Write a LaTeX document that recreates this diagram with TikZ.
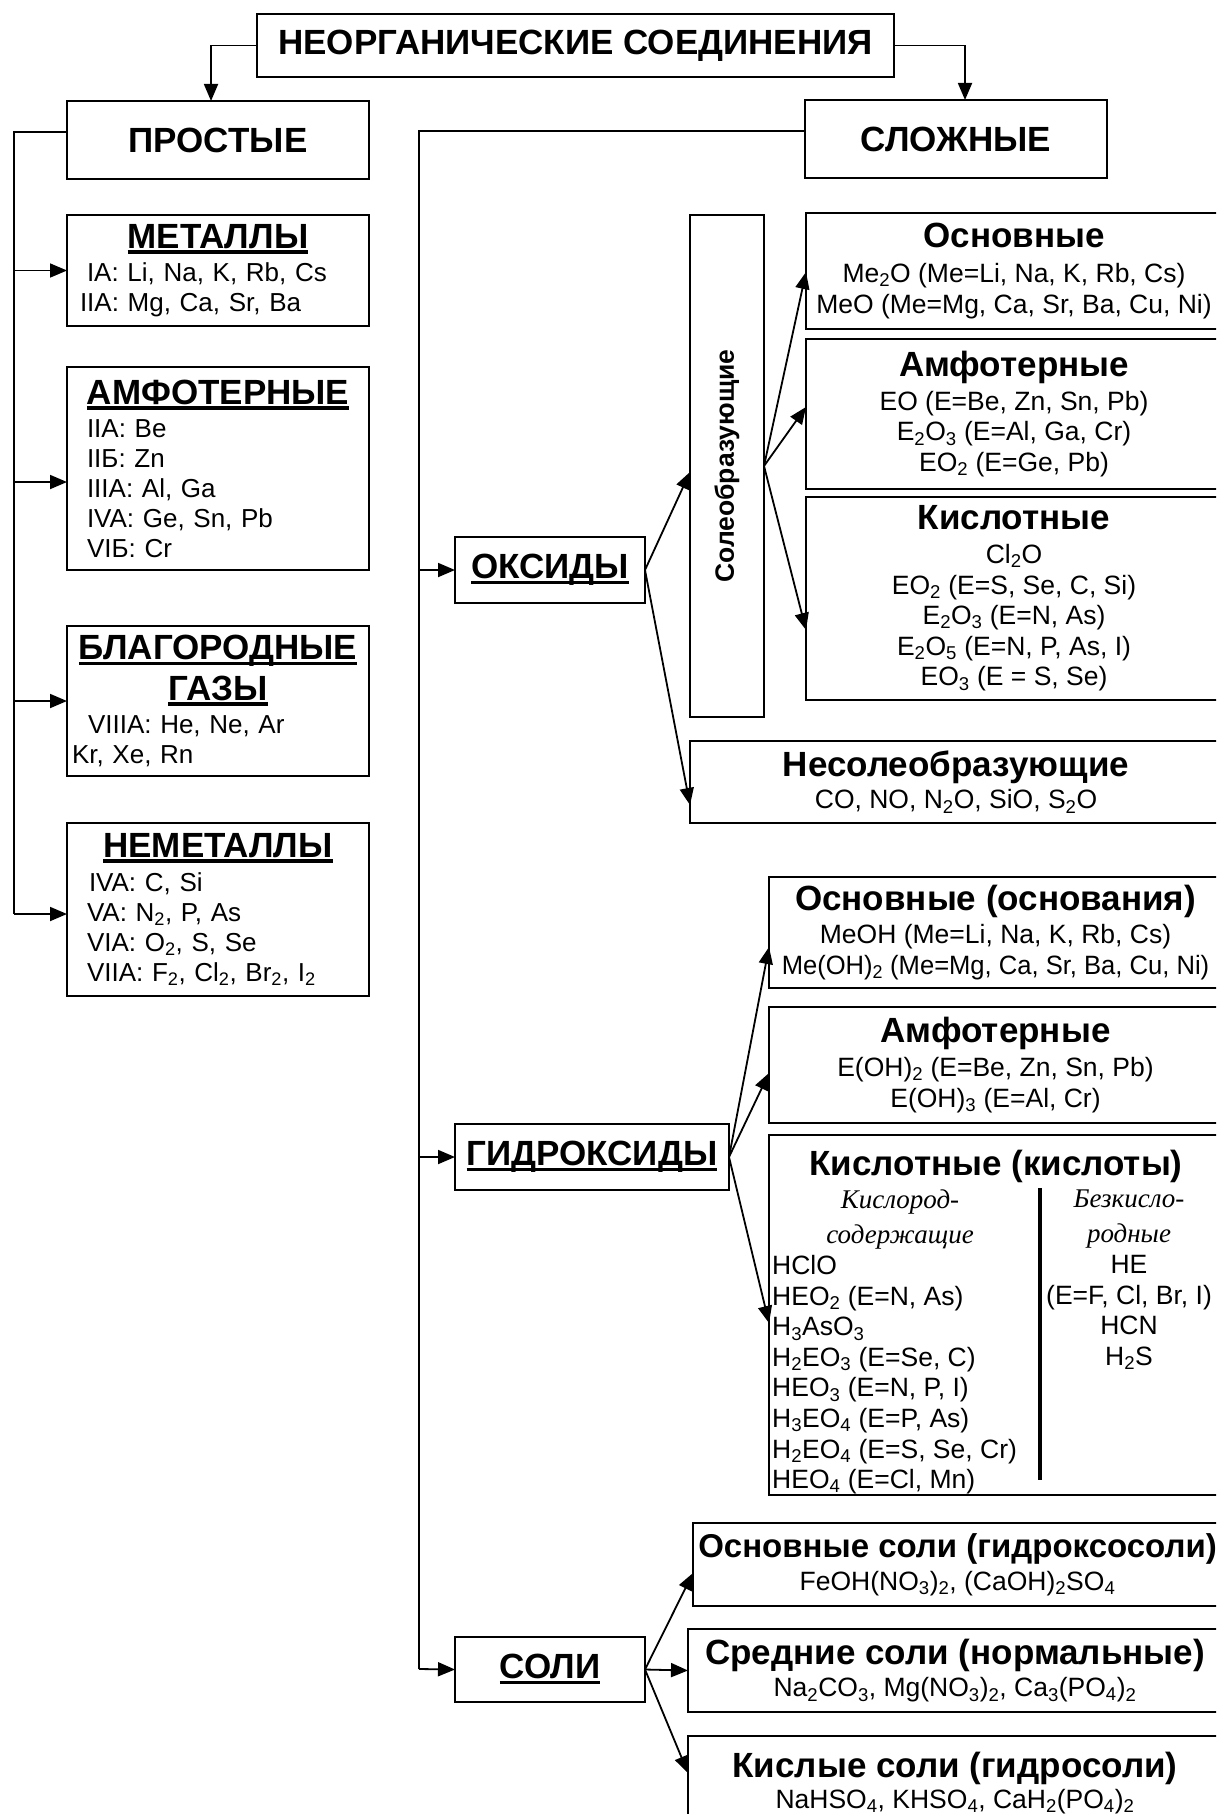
\documentclass[tikz,border=0pt]{standalone}
\usepackage{fontspec}
\usepackage{graphicx}
\setmainfont{Liberation Sans}
\newfontfamily\serifit{Liberation Serif}
\usetikzlibrary{arrows.meta}
\newcommand\sub[1]{\textsubscript{#1}}
\newcommand\ulx[1]{\setbox0\hbox{#1}\rlap{\rule[-5.5pt]{\wd0}{3.5pt}}\box0}
\newcommand\capt{\fontsize{35}{38}\selectfont\bfseries}
\newcommand\medt{\fontsize{35}{38}\selectfont\bfseries}
\newcommand\bod{\fontsize{26.5}{30.6}\selectfont}
\newcommand\lbod{\fontsize{26}{30}\selectfont}
\newcommand\rotf{\fontsize{26.5}{28}\selectfont\bfseries}
\newcommand\itl{\fontsize{27}{35}\selectfont\serifit\itshape}
\tikzset{
  box/.style={draw, line width=2.2pt, inner sep=0pt, outer sep=0pt, anchor=north west, align=center, font=\bod},
  lbox/.style={box, align=left, text width=302pt, font=\lbod},
  conn/.style={line width=1.8pt},
  arr/.style={line width=1.8pt, -{Triangle[length=17pt,width=14pt]}},
}
\begin{document}
\begin{tikzpicture}[x=1pt,y=-1pt]
\useasboundingbox (0,0) rectangle (1216,1814);
\clip (0,0) rectangle (1216,1814);
\fill[white] (0,0) rectangle (1216,1814);

% top level
\node[box, minimum width=637pt, minimum height=63pt, font=\capt] (top) at (257,14) {НЕОРГАНИЧЕСКИЕ СОЕДИНЕНИЯ};
\node[box, minimum width=302pt, minimum height=78pt, font=\capt] (prost) at (67,101) {ПРОСТЫЕ};
\node[box, minimum width=302pt, minimum height=78pt, font=\capt] (slozh) at (805,100) {СЛОЖНЫЕ};

% simple substances
\node[lbox, minimum height=111pt] (met) at (67,215) {%
\centerline{\capt\ulx{МЕТАЛЛЫ}}\vspace{3pt}
\hspace*{20pt}IA: Li, Na, K, Rb, Cs\\
\hspace*{13pt}IIA: Mg, Ca, Sr, Ba};
\node[lbox, minimum height=203pt] (amf) at (67,367) {%
\centerline{\capt\ulx{АМФОТЕРНЫЕ}}\vspace{3pt}
\hspace*{20pt}IIA: Be\\
\hspace*{20pt}IIБ: Zn\\
\hspace*{20pt}IIIA: Al, Ga\\
\hspace*{20pt}IVA: Ge, Sn, Pb\\
\hspace*{20pt}VIБ: Cr};
\node[lbox, minimum height=150pt] (blag) at (67,626) {%
\centerline{\capt\ulx{БЛАГОРОДНЫЕ}}\vspace{8pt}
\centerline{\capt\ulx{ГАЗЫ}}\vspace{3pt}
\hspace*{21pt}VIIIA: He, Ne, Ar\\
\hspace*{5pt}Kr, Xe, Rn};
\node[lbox, minimum height=173pt] (nemet) at (67,823) {%
\centerline{\capt\ulx{НЕМЕТАЛЛЫ}}\vspace{4pt}
\hspace*{22pt}IVA: C, Si\\
\hspace*{20pt}VA: N\sub{2}, P, As\\
\hspace*{20pt}VIA: O\sub{2}, S, Se\\
\hspace*{20pt}VIIA: F\sub{2}, Cl\sub{2}, Br\sub{2}, I\sub{2}};

% complex: classes
\node[box, minimum width=190pt, minimum height=66pt, font=\capt] (oks) at (455,537) {\ulx{ОКСИДЫ}};
\node[box, minimum width=274pt, minimum height=66pt, font=\capt] (gidr) at (455,1124) {\ulx{ГИДРОКСИДЫ}};
\node[box, minimum width=190pt, minimum height=65pt, font=\capt] (soli) at (455,1637) {\ulx{СОЛИ}};

% oxides
\node[box, minimum width=74pt, minimum height=502pt, font=\rotf] (soleo) at (690,215) {\rotatebox{90}{Солеобразующие}};
\node[box, minimum width=416pt, minimum height=116pt] (osnox) at (806,213) {{\medt Основные}\\[4pt]
Me\sub{2}O (Me=Li, Na, K, Rb, Cs)\\MeO (Me=Mg, Ca, Sr, Ba, Cu, Ni)};
\node[box, minimum width=416pt, minimum height=150pt] (amfox) at (806,339) {{\medt Амфотерные}\\[3pt]
EO (E=Be, Zn, Sn, Pb)\\E\sub{2}O\sub{3} (E=Al, Ga, Cr)\\EO\sub{2} (E=Ge, Pb)};
\node[box, minimum width=416pt, minimum height=203pt] (kisox) at (806,497) {{\medt Кислотные}\\[3pt]
Cl\sub{2}O\\EO\sub{2} (E=S, Se, C, Si)\\E\sub{2}O\sub{3} (E=N, As)\\E\sub{2}O\sub{5} (E=N, P, As, I)\\EO\sub{3} (E = S, Se)};
\node[box, minimum width=532pt, minimum height=82pt] (nesol) at (690,741) {{\medt Несолеобразующие}\\[2pt]
CO, NO, N\sub{2}O, SiO, S\sub{2}O};

% hydroxides
\node[box, minimum width=453pt, minimum height=111pt] (osnh) at (769,877) {{\medt Основные (основания)}\\[3pt]
MeOH (Me=Li, Na, K, Rb, Cs)\\\scalebox{0.965}[1]{Me(OH)\sub{2} (Me=Mg, Ca, Sr, Ba, Cu, Ni)}};
\node[box, minimum width=453pt, minimum height=116pt] (amfh) at (769,1007) {{\medt Амфотерные}\\[3pt]
E(OH)\sub{2} (E=Be, Zn, Sn, Pb)\\E(OH)\sub{3} (E=Al, Cr)};
\node[box, minimum width=453pt, minimum height=360pt] (kislh) at (769,1135) {};
\node[font=\medt, anchor=base] (kislht) at (996,1175) {Кислотные (кислоты)};
\node[font=\itl, align=center] (k1h) at (900,1219) {Кислород-\\содержащие};
\node[font=\itl, align=center] (k2h) at (1129,1219) {Безкисло-\\родные};
\node[font=\bod, align=left, anchor=north west, inner sep=0pt] (k1) at (772,1255) {HClO\\HEO\sub{2} (E=N, As)\\H\sub{3}AsO\sub{3}\\H\sub{2}EO\sub{3} (E=Se, C)\\HEO\sub{3} (E=N, P, I)\\H\sub{3}EO\sub{4} (E=P, As)\\H\sub{2}EO\sub{4} (E=S, Se, Cr)\\HEO\sub{4} (E=Cl, Mn)};
\node[font=\bod, align=center, anchor=north, inner sep=0pt] (k2) at (1129,1255) {HE\\(E=F, Cl, Br, I)\\HCN\\H\sub{2}S};
\draw[line width=3.5pt] (1040,1188) -- (1040,1480);

% salts
\node[box, minimum width=529pt, minimum height=83pt] (osns) at (693,1523) {{\fontsize{33}{36}\selectfont\bfseries Основные соли (гидроксосоли)}\\[2pt]
FeOH(NO\sub{3})\sub{2}, (CaOH)\sub{2}SO\sub{4}};
\node[box, minimum width=534pt, minimum height=83pt] (sreds) at (688,1629) {{\medt Средние соли (нормальные)}\\[2pt]
Na\sub{2}CO\sub{3}, Mg(NO\sub{3})\sub{2}, Ca\sub{3}(PO\sub{4})\sub{2}};
\node[box, minimum width=534pt, minimum height=94pt] (kisls) at (688,1736) {{\medt Кислые соли (гидросоли)}\\[0pt]
NaHSO\sub{4}, KHSO\sub{4}, CaH\sub{2}(PO\sub{4})\sub{2}};

% connectors
\draw[arr] (top.west) -| (prost.north -| 211,0);
\draw[arr] (top.east) -| (slozh.north -| 965,0);

\coordinate (lt) at (14,132);
\coordinate (lb) at (14,914);
\draw[conn] (prost.west |- lt) -- (lt) -- (lb);
\draw[arr] (lt |- met.west) -- (met.west);
\draw[arr] (lt |- 0,482) -- (amf.west |- 0,482);
\draw[arr] (lt |- blag.west) -- (blag.west);
\draw[arr] (lb) -- (nemet.west |- lb);

\coordinate (rt) at (419,131);
\coordinate (rb) at (419,1669);
\draw[conn] (slozh.west |- rt) -- (rt) -- (rb);
\draw[arr] (rt |- oks.west) -- (oks.west);
\draw[arr] (rt |- gidr.west) -- (gidr.west);
\draw[arr] (rb) -- (soli.west);

\draw[arr] (oks.east) -- (soleo.west |- 0,472);
\draw[arr] (oks.east) -- (nesol.west |- 0,805);
\draw[arr] (soleo.east) -- (osnox.west |- 0,272);
\draw[arr] (soleo.east) -- (amfox.west |- 0,407);
\draw[arr] (soleo.east) -- (kisox.west |- 0,630);

\draw[arr] (gidr.east) -- (osnh.west |- 0,947);
\draw[arr] (gidr.east) -- (amfh.west |- 0,1073);
\draw[arr] (gidr.east) -- (kislh.west |- 0,1323);

\draw[arr] (soli.east) -- (osns.west |- 0,1573);
\draw[arr] (soli.east) -- (sreds.west);
\draw[arr] (soli.east) -- (kisls.west |- 0,1773);
\end{tikzpicture}
\end{document}
